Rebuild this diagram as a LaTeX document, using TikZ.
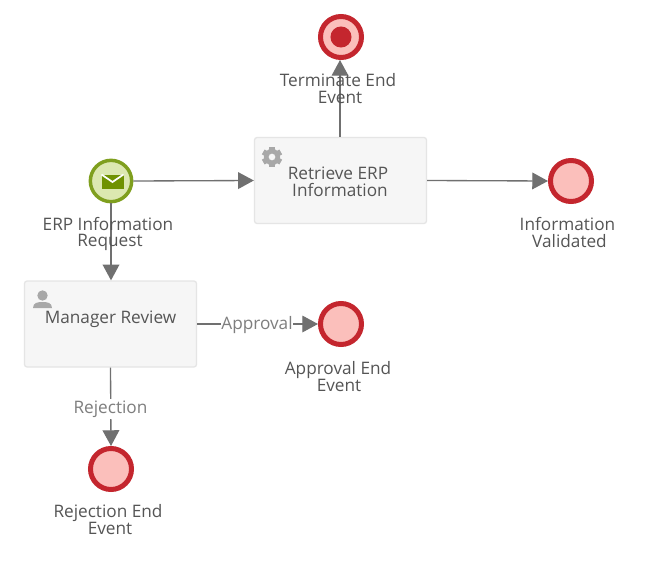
\documentclass[tikz,border=0pt]{standalone}
\usepackage{fontspec}
\setmainfont{Open Sans}
\usetikzlibrary{arrows.meta}
\definecolor{txt}{HTML}{555555}
\definecolor{lbl}{HTML}{7E7E7E}
\definecolor{edge}{HTML}{707070}
\definecolor{redr}{HTML}{C4262E}
\definecolor{pinkf}{HTML}{FBBFBB}
\definecolor{greenr}{HTML}{7F9F1E}
\definecolor{greenf}{HTML}{DCE8B0}
\definecolor{greend}{HTML}{6F9200}
\definecolor{icon}{HTML}{A8A8A8}
\newcommand{\nudge}{\hspace*{3pt}}
\tikzset{
  x=0.75pt,y=-0.75pt,
  every node/.style={font=\fontsize{12.9pt}{13pt}\selectfont,text=txt,align=center,inner sep=0pt},
  endevent/.style={circle,draw=redr,line width=3.75pt,fill=pinkf,minimum size=30.75pt},
  startevent/.style={circle,draw=greenr,line width=2.6pt,fill=greenf,minimum size=31pt},
  taskbox/.style={draw=black!10,line width=1pt,fill=black!3.5,rounded corners=2pt,minimum width=129pt,minimum height=64.5pt},
  flow/.style={draw=edge,line width=1pt,-{Triangle[length=11.8pt,width=12.5pt,fill=edge]}},
  flowlabel/.style={text=lbl,fill=white,inner xsep=0.5pt,inner ysep=1pt},
  caption/.style={text=txt}
}
\begin{document}
\begin{tikzpicture}
\useasboundingbox (0,0) rectangle (664,564);
\fill[white] (0,0) rectangle (664,564);
% tasks
\node[taskbox] (retrieve) at (340.5,180.5) {};
\node[taskbox] (manager) at (110.5,324) {};
% events
\node[startevent] (start) at (111,181) {};
\node[endevent] (term) at (341,37) {};
\node[endevent] (valid) at (571,181) {};
\node[endevent] (approval) at (341,324) {};
\node[endevent] (reject) at (111,469) {};
% terminate dot
\fill[redr] (term.center) circle (7.9pt);
% connectors
\draw[flow] (start.east) -- (retrieve.west);
\draw[flow] (retrieve.north -| term) ++(-1,0) coordinate (rt) -- (rt |- term.south);
\draw[flow] (retrieve.east) -- (valid.west);
\draw[flow] (start.south) -- (manager.north -| start);
\draw[flow] (manager.east) -- (approval.west);
\draw[flow] (manager.south) -- (reject.north);
\node[flowlabel] (approvallabel) at (257,325) {Approval};
\node[flowlabel] (rejectlabel) at (110.5,409) {Rejection};
% captions
\node[caption] (termcap) at (338,88.5) {Terminate End\\[-0.5pt]\nudge Event};
\node[caption] (startcap) at (108,234) {ERP Information\\[-0.5pt]\nudge Request};
\node[caption] (validcap) at (567.5,232.5) {Information\\[-0.5pt]\nudge Validated};
\node[caption] (apprcap) at (338,376.5) {Approval End\\[-0.5pt]\hspace*{1.5pt}Event};
\node[caption] (rejcap) at (108,519.5) {Rejection End\\[-0.5pt]\nudge Event};
\node[caption] (rettext) at (338,182) {Retrieve ERP\\[-0.5pt]\nudge Information};
\node[caption] (mantext) at (110.5,319) {Manager Review};
% envelope
\fill[greend] (101.5,175) rectangle (123.5,189);
\draw[white,line width=1.3pt] (101.5,174.5) -- (112.5,182) -- (123.5,174.5);
% gear
\begin{scope}[shift={(272,157)}]
\fill[icon,even odd rule]
  (0,0) circle (6.1pt) (0,0) circle (2.6pt);
\foreach \a in {0,60,...,300}
  \fill[icon,rotate=\a] (-2.1pt,-5pt) rectangle (2.1pt,-7.6pt);
\end{scope}
% person
\fill[icon] (42.5,295.5) circle (3.9pt);
\fill[icon] (33,308) .. controls (33,302.5) and (38,302) .. (42.5,302) .. controls (47,302) and (52,302.5) .. (52,308) -- cycle;
\end{tikzpicture}
\end{document}
